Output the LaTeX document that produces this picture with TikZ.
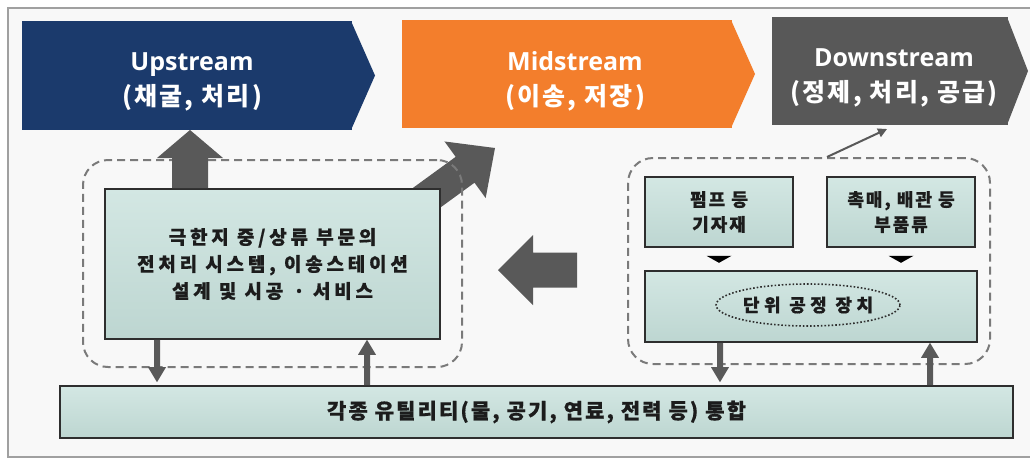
\documentclass[tikz,border=0pt]{standalone}
\usepackage{fontspec}
\setmainfont{Noto Sans CJK KR}
\newfontfamily\latf{Open Sans}
\newfontfamily\krhd{Noto Sans CJK KR}[LetterSpace=9]
\newfontfamily\krin{Noto Sans CJK KR}[LetterSpace=20, FakeBold=0.6]
\newfontfamily\krsm{Noto Sans CJK KR}[LetterSpace=11, FakeBold=0.6]
\newfontfamily\krel{Noto Sans CJK KR}[LetterSpace=25, FakeBold=0.6]
\newfontfamily\krbt{Noto Sans CJK KR}[LetterSpace=10, FakeBold=0.6]
\usetikzlibrary{arrows.meta,calc,shapes.geometric}
\definecolor{navy}{HTML}{1B3A6C}
\definecolor{orng}{HTML}{F37E2C}
\definecolor{dgry}{HTML}{585858}
\definecolor{boxf}{HTML}{C6DEDA}
\definecolor{boxt}{HTML}{D3E7E3}
\definecolor{boxb}{HTML}{BDD6D1}
\definecolor{bord}{HTML}{2E2E2E}
\definecolor{arrg}{HTML}{595959}
\definecolor{bgc}{HTML}{F8F8F8}
\definecolor{frm}{HTML}{A0A0A0}
\definecolor{grpc}{HTML}{7A7A7A}
\definecolor{txtc}{HTML}{1C1C1C}
\newcommand\fatarrow[6][arrg]{%
  \coordinate (fa-h) at ($#3!#6!#2$);
  \fill[#1] ($#2!#4!90:#3$) -- ($(fa-h)!#4!90:#3$) -- ($(fa-h)!#5!90:#3$) -- #3
    -- ($(fa-h)!#5!-90:#3$) -- ($(fa-h)!#4!-90:#3$) -- ($#2!#4!-90:#3$) -- cycle;}
\tikzset{
  hdrbox/.style={minimum height=108pt, inner sep=0pt, outer sep=0pt, draw=none},
  hdrtext/.style={text=white, align=center, inner sep=0pt, font=\krhd\bfseries\fontsize{25}{35}\selectfont},
  tbox/.style={top color=boxt, bottom color=boxb, draw=bord, line width=1.6pt, inner sep=0pt, align=center, text=txtc},
  grp/.style={draw=grpc, dash pattern=on 8pt off 5pt, line width=2pt, rounded corners=25pt, inner sep=0pt},
  thinarr/.style={draw=arrg, line width=2pt, -{Triangle[width=9pt,length=9pt]}},
}
\begin{document}
\begin{tikzpicture}[x=1pt,y=-1pt]
\useasboundingbox (0,0) rectangle (1030,459);
\fill[white] (0,0) rectangle (1030,459);
\filldraw[fill=bgc, draw=frm, line width=1.5pt] (8,8) rectangle (1045,457);
% headers
\node[hdrbox, fill=navy, minimum width=330pt, minimum height=109pt] (up) at (187,75.5) {};
\fill[navy] ([xshift=-1pt]up.north east) -- ($(up.east)+(23,0)$) -- ([xshift=-1pt]up.south east) -- cycle;
\node[hdrtext] (upt) at (192,82) {{\latf\bfseries Upstream}\\(채굴, 처리)};
\node[hdrbox, fill=orng, minimum width=330pt] (mid) at (567,74) {};
\fill[orng] ([xshift=-1pt]mid.north east) -- ($(mid.east)+(23,0)$) -- ([xshift=-1pt]mid.south east) -- cycle;
\node[hdrtext] (midt) at (575,81) {{\latf\bfseries Midstream}\\(이송, 저장)};
\node[hdrbox, fill=dgry, minimum width=236pt] (down) at (890,71) {};
\fill[dgry] ([xshift=-1pt]down.north east) -- ($(down.east)+(20,0)$) -- ([xshift=-1pt]down.south east) -- cycle;
\node[hdrtext] (downt) at (894,78) {{\latf\bfseries Downstream}\\(정제, 처리, 공급)};
% diagonal arrow
\coordinate (d1) at (418,204);
\coordinate (d2) at (495,148);
\fatarrow{(d1)}{(d2)}{16pt}{35pt}{37pt}
% groups
\node[grp, minimum width=379pt, minimum height=207pt] (lgrp) at (272.5,263.5) {};
\node[grp, minimum width=362pt, minimum height=206pt] (rgrp) at (809,261) {};
% boxes
\node[tbox, font=\krin\bfseries\fontsize{19}{27}\selectfont, minimum width=335pt, minimum height=150pt] (inner) at (272.5,264)
  {극한지 중/상류 부문의\\전처리 시스템, 이송스테이션\\설계 및 시공\hspace{10pt}· 서비스};
\node[tbox, font=\krsm\bfseries\fontsize{18}{25}\selectfont, minimum width=148pt, minimum height=70pt] (pump) at (719,212) {펌프 등\\기자재};
\node[tbox, font=\krsm\bfseries\fontsize{18}{25}\selectfont, minimum width=148pt, minimum height=70pt] (cat) at (901,212) {촉매, 배관 등\\부품류};
\node[tbox, minimum width=332pt, minimum height=71pt] (unit) at (811,306.5) {};
\node[draw=bord, dash pattern=on 1.6pt off 2pt, line width=1.6pt, ellipse, minimum width=182pt, minimum height=42pt, inner sep=0pt,
  text=txtc, font=\krel\bfseries\fontsize{18}{20}\selectfont] (ell) at (808,305) {단위 공정 장치};
\node[tbox, font=\krbt\bfseries\fontsize{21}{22}\selectfont, minimum width=953pt, minimum height=52pt] (util) at (536.5,412)
  {각종 유틸리티(물, 공기, 연료, 전력 등) 통합};
% big arrows
\coordinate (ua1) at ($(up.south |- inner.north)+(3,0)$);
\coordinate (ua2) at ($(up.south)+(3,0)$);
\fatarrow{(ua1)}{(ua2)}{18pt}{33pt}{28pt}
\coordinate (la1) at ($(rgrp.west)+(-50,9)$);
\coordinate (la2) at ($(lgrp.east)+(35,6.5)$);
\fatarrow{(la1)}{(la2)}{17.5pt}{35pt}{35pt}
% small arrows
\coordinate (s1a) at ($(inner.south)+(-115.5,0)$);
\coordinate (s1b) at ($(s1a |- util.north)+(0,-3)$);
\fatarrow{(s1a)}{(s1b)}{3pt}{9pt}{15pt}
\coordinate (s2b) at ($(inner.south)+(94.5,0)$);
\coordinate (s2a) at (s2b |- util.north);
\fatarrow{(s2a)}{(s2b)}{3pt}{9pt}{15pt}
\coordinate (s3a) at ($(unit.south)+(-91,0)$);
\coordinate (s3b) at ($(s3a |- util.north)+(0,-3)$);
\fatarrow{(s3a)}{(s3b)}{3pt}{9pt}{15pt}
\coordinate (s4b) at ($(unit.south)+(119,0)$);
\coordinate (s4a) at (s4b |- util.north);
\fatarrow{(s4a)}{(s4b)}{3pt}{9pt}{15pt}
% small black triangles
\fill[black] ($(pump.south)+(-12.5,8)$) -- ($(pump.south)+(12.5,8)$) -- ($(pump.south)+(0,15)$) -- cycle;
\fill[black] ($(cat.south)+(-12.5,8)$) -- ($(cat.south)+(12.5,8)$) -- ($(cat.south)+(0,15)$) -- cycle;
% thin arrow
\draw[thinarr] ($(rgrp.north)+(18,0)$) -- ($(down.south)+(-3,4)$);
\end{tikzpicture}
\end{document}
